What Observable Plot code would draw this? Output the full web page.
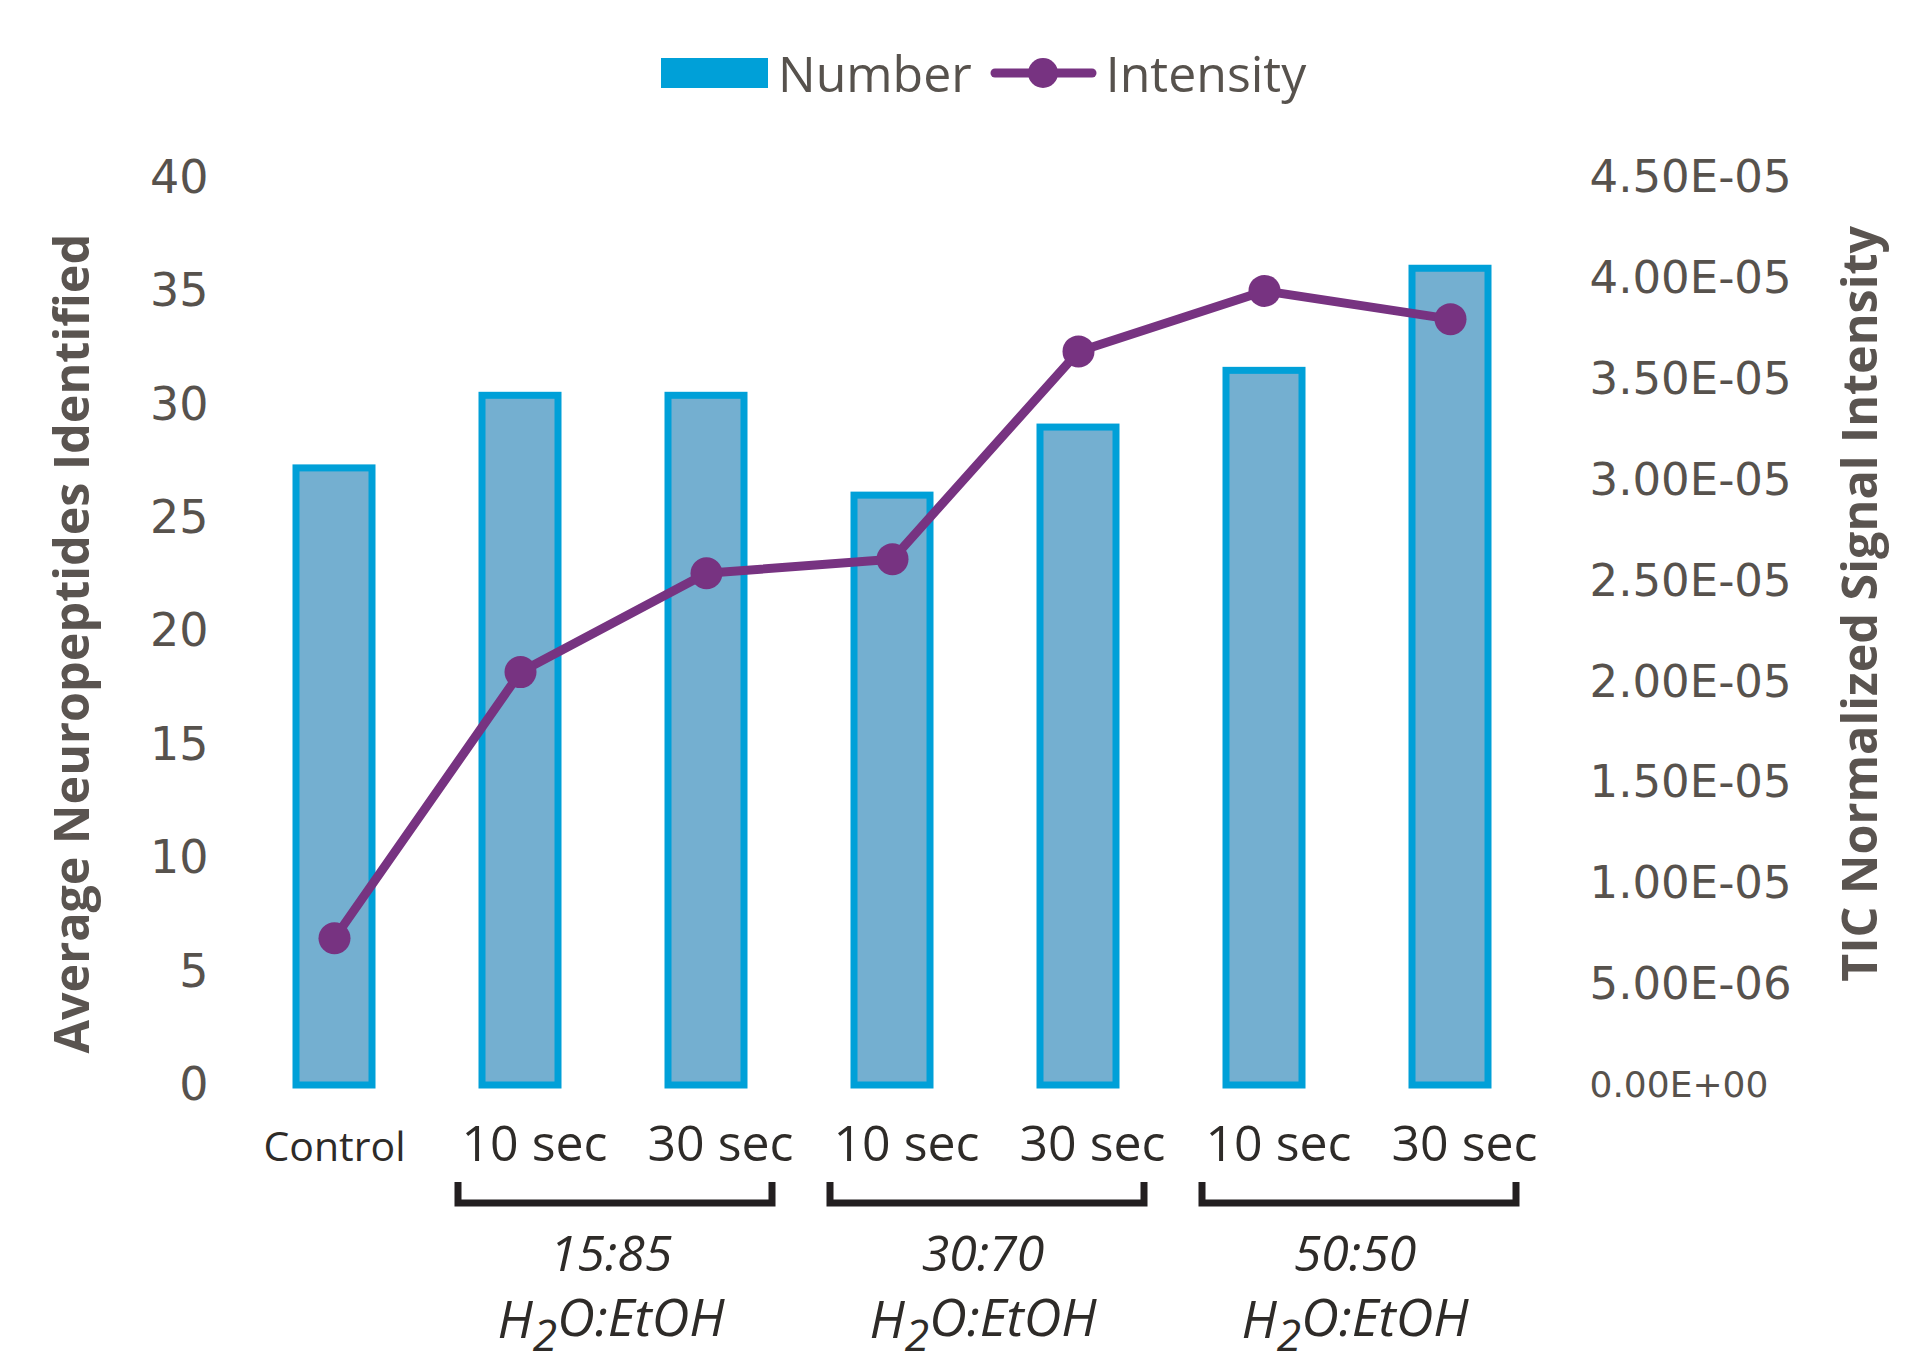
<!DOCTYPE html>
<html><head><meta charset="utf-8">
<script src="https://cdn.jsdelivr.net/npm/d3@7"></script>
<script src="https://cdn.jsdelivr.net/npm/@observablehq/plot@0.6"></script>
<style>
body{margin:0;background:#fff;font-family:"Open Sans",sans-serif;}
#legend{height:130px;box-sizing:border-box;padding-top:16px;padding-left:661px;display:flex;align-items:center;color:#57524d;font-size:50px;font-family:"Open Sans",sans-serif;}
#chart svg{display:block;}
</style></head><body>
<div id="legend"></div>
<div id="chart"></div>
<script>
// ---- data ----
const categories = ["Control","15:85 10 sec","15:85 30 sec","30:70 10 sec","30:70 30 sec","50:50 10 sec","50:50 30 sec"];
const tickLabels = ["Control","10 sec","30 sec","10 sec","30 sec","10 sec","30 sec"];
const numberValues = [27.2, 30.4, 30.4, 26.0, 29.0, 31.5, 36.0];
const intensityValues = [7.3e-6, 2.05e-5, 2.54e-5, 2.61e-5, 3.64e-5, 3.94e-5, 3.80e-5];
const groupStarts = ["15:85 10 sec","30:70 10 sec","50:50 10 sec"];
const groupEnds = ["15:85 30 sec","30:70 30 sec","50:50 30 sec"];
const groupRatios = ["15:85","30:70","50:50"];
const leftTicks = [0,5,10,15,20,25,30,35,40];
const rightTicks = [0,5e-6,1e-5,1.5e-5,2e-5,2.5e-5,3e-5,3.5e-5,4e-5,4.5e-5];
const rightTickLabels = ["0.00E+00","5.00E-06","1.00E-05","1.50E-05","2.00E-05","2.50E-05","3.00E-05","3.50E-05","4.00E-05","4.50E-05"];
const seriesNames = ["Number","Intensity"];
const leftTitle = "Average Neuropeptides Identified";
const rightTitle = "TIC Normalized Signal Intensity";

// ---- styles ----
const barFill = "#74afd0", barStroke = "#00a0d8", lineColor = "#773381";
const tickColor = "#57524d", darkText = "#2e2b28";

// ---- legend ----
const legend = document.getElementById("legend");
legend.innerHTML =
  `<svg width="107" height="30"><rect width="107" height="30" fill="${barStroke}"/></svg>` +
  `<span style="margin-left:10px">${seriesNames[0]}</span>` +
  `<svg width="107" height="32" style="margin-left:18px"><line x1="5" x2="102" y1="16" y2="16" stroke="${lineColor}" stroke-width="9" stroke-linecap="round"/><circle cx="53" cy="16" r="15" fill="${lineColor}"/></svg>` +
  `<span style="margin-left:9px">${seriesNames[1]}</span>`;

// ---- chart ----
const rows = categories.map((c, i) => ({cat: c, label: tickLabels[i], number: numberValues[i], intensity: intensityValues[i]}));
const groups = groupRatios.map((r, i) => ({from: groupStarts[i], to: groupEnds[i], ratio: r}));
const k = 40 / 4.5e-5; // right axis -> left axis units

const W = 1920, H = 1241;
const mT = 47.5, mB = 286, mL = 240, mR = 376;

const chart = Plot.plot({
  width: W, height: H,
  marginTop: mT, marginBottom: mB, marginLeft: mL, marginRight: mR,
  x: {domain: categories, paddingInner: 0.592, paddingOuter: 0.296, axis: null},
  y: {domain: [0, 40], axis: null},
  style: {fontFamily: "Open Sans", color: tickColor, background: "white", overflow: "visible"},
  marks: [
    Plot.barY(rows, {x: "cat", y: "number", fill: barFill, stroke: barStroke, strokeWidth: 7}),
    Plot.line(rows, {x: "cat", y: d => d.intensity * k, stroke: lineColor, strokeWidth: 9}),
    Plot.dot(rows, {x: "cat", y: d => d.intensity * k, r: 16, fill: lineColor}),
    // left ticks
    Plot.text(leftTicks, {y: d => d, text: d => String(d), frameAnchor: "left", dx: -32, textAnchor: "end",
      lineAnchor: "middle", fontSize: 46, fontFamily: "DejaVu Sans", fill: tickColor}),
    // right ticks
    Plot.text(rightTicks, {y: d => d * k, text: (d, i) => rightTickLabels[i], frameAnchor: "right", dx: 45, textAnchor: "start",
      lineAnchor: "middle", fontSize: (d, i) => i === 0 ? 36 : 45, fontFamily: "DejaVu Sans", fill: tickColor}),
    // x tick labels
    Plot.text(rows, {x: "cat", text: "label", frameAnchor: "bottom", dy: 75, lineAnchor: "bottom",
      dx: 0, fontSize: d => d.cat === "Control" ? 41 : 50, fontFamily: "Open Sans", fill: darkText,
      render: (index, scales, values, dims, ctx, next) => {
        const g = next(index, scales, values, dims, ctx);
        // shift the timed labels slightly right, as in the reference
        d3.select(g).selectAll("text").each(function(_, j) {
          if (rows[index[j]].cat !== "Control") this.setAttribute("dx", 14);
        });
        return g;
      }}),
    // group brackets and labels
    Plot.link(groups, {x1: "from", x2: "to", y1: 0, y2: 0, render: (index, scales, values, dims) => {
      const g = d3.create("svg:g");
      const fb = dims.height - dims.marginBottom;
      let bw = 0;
      if (scales.x && typeof scales.x.bandwidth === "function") bw = scales.x.bandwidth();
      else if (scales.scales && scales.scales.x && scales.scales.x.bandwidth) bw = scales.scales.x.bandwidth;
      for (const i of index) {
        const a = values.x1[i] + bw / 2, b = values.x2[i] + bw / 2;
        const xa = a - 62, xb = b + 66, yt = fb + 97, yb = fb + 118;
        g.append("path").attr("d", `M${xa},${yt}V${yb}H${xb}V${yt}`)
          .attr("fill", "none").attr("stroke", "#231f20").attr("stroke-width", 7);
        const mid = (a + b) / 2;
        g.append("text").attr("x", mid - 2).attr("y", fb + 186).attr("text-anchor", "middle")
          .attr("font-family", "Open Sans").attr("font-style", "italic").attr("font-size", 50)
          .attr("fill", darkText).text(groups[i].ratio);
        const t = g.append("text").attr("x", mid - 2).attr("y", fb + 253).attr("text-anchor", "middle")
          .attr("font-family", "Open Sans").attr("font-style", "italic").attr("font-size", 52)
          .attr("fill", darkText);
        t.append("tspan").text("H");
        t.append("tspan").attr("dy", "0.3em").attr("font-size", "85%").text("2");
        t.append("tspan").attr("dy", "-0.3em").text("O:EtOH");
      }
      return g.node();
    }}),
    // axis titles
    Plot.text([leftTitle], {frameAnchor: "left", rotate: -90, dx: -167, dy: 12, text: d => d, textAnchor: "middle",
      fontSize: 48.5, fontWeight: "bold", fontFamily: "Open Sans", fill: "#5a5450", lineAnchor: "middle"}),
    Plot.text([rightTitle], {frameAnchor: "right", rotate: -90, dx: 317, dy: -28, text: d => d, textAnchor: "middle",
      fontSize: 48.5, fontWeight: "bold", fontFamily: "Open Sans", fill: "#5a5450", lineAnchor: "middle"})
  ]
});
document.getElementById("chart").appendChild(chart);
</script>
</body></html>
